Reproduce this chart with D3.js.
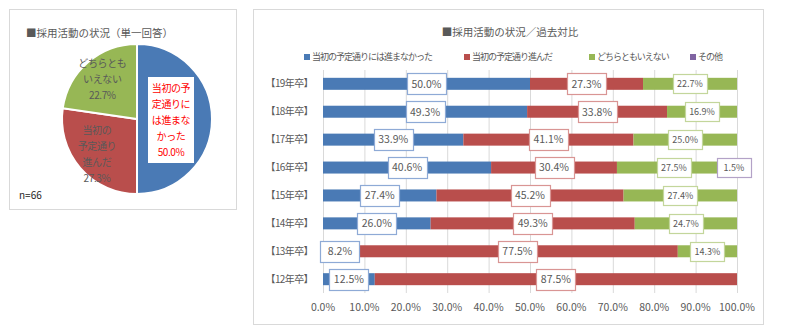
<!DOCTYPE html>
<html><head><meta charset="utf-8">
<script src="https://cdn.jsdelivr.net/npm/d3@7"></script>
<style>
body{margin:0;background:#fff;}
svg text{font-family:"Noto Sans CJK JP","Noto Sans",sans-serif;}
</style></head>
<body><svg id="c" width="800" height="332"></svg>
<script>
// ---- data ----
const pieLabels = ["当初の予定通りには進まなかった", "当初の予定通り進んだ", "どちらともいえない"];
const pieValues = [50.0, 27.3, 22.7];
const pieLabelLines = [["当初の予","定通りに","は進まな","かった"],["当初の","予定通り","進んだ"],["どちらとも","いえない"]];
const years = ["【19年卒】","【18年卒】","【17年卒】","【16年卒】","【15年卒】","【14年卒】","【13年卒】","【12年卒】"];
const seriesNames = ["当初の予定通りには進まなかった","当初の予定通り進んだ","どちらともいえない","その他"];
const notAsPlanned = [50.0, 49.3, 33.9, 40.6, 27.4, 26.0, 8.2, 12.5];
const asPlanned    = [27.3, 33.8, 41.1, 30.4, 45.2, 49.3, 77.5, 87.5];
const neither      = [22.7, 16.9, 25.0, 27.5, 27.4, 24.7, 14.3, 0];
const other        = [0, 0, 0, 1.5, 0, 0, 0, 0];
const xTicks = [0,10,20,30,40,50,60,70,80,90,100];

const colors = ["#4a7ab5","#b94e4c","#97b755","#8064a2"];
const borders = ["#8eaad6","#d99594","#c3d69b","#b3a2c7"];
const txt = "#595959";

const svg = d3.select("#c");

// ---- panels ----
svg.append("rect").attr("x",9.5).attr("y",9.5).attr("width",227).attr("height",200)
  .attr("fill","#fff").attr("stroke","#d9d9d9");
svg.append("rect").attr("x",253.5).attr("y",9.5).attr("width",510).attr("height",315)
  .attr("fill","#fff").attr("stroke","#d9d9d9");

// ---- pie ----
svg.append("text").attr("x",26).attr("y",37).attr("fill",txt).attr("font-size",10.5)
  .text("■採用活動の状況（単一回答）");
const cx=137, cy=119, R=75;
const pie = d3.pie().sort(null)(pieValues);
const arc = d3.arc().innerRadius(0).outerRadius(R);
const pg = svg.append("g").attr("transform",`translate(${cx},${cy})`);
pg.selectAll("path").data(pie).join("path").attr("d",arc)
  .attr("fill",(d,i)=>colors[i]).attr("stroke","#fff").attr("stroke-width",2);
pie.forEach((d,i)=>{
  const lr = i===0 ? 34 : 53;
  const a = (d.startAngle+d.endAngle)/2;
  const lx = lr*Math.sin(a), ly = -lr*Math.cos(a);
  const lines = pieLabelLines[i].concat([d3.format(".1f")(pieValues[i])+"%"]);
  const lh = 16;
  const g = pg.append("g").attr("transform",`translate(${lx},${ly+1})`);
  if(i===0){
    g.append("rect").attr("x",-23).attr("y",-lines.length*lh/2-3).attr("width",46).attr("height",lines.length*lh+6).attr("fill","#fff");
  }
  lines.forEach((t,j)=>{
    g.append("text").attr("x",0).attr("y",(j-(lines.length-1)/2)*lh).attr("dy","0.35em")
      .attr("text-anchor","middle").attr("font-size",10).attr("letter-spacing",-0.4)
      .attr("fill", i===0 ? "#ff0000" : txt).text(t);
  });
});
svg.append("text").attr("x",19).attr("y",199).attr("fill","#262626").attr("font-size",10).text("n=66");

// ---- bar chart ----
svg.append("text").attr("x",510).attr("y",36).attr("text-anchor","middle").attr("fill",txt)
  .attr("font-size",10.5).text("■採用活動の状況／過去対比");

const legX = [304, 464, 589, 690];
seriesNames.forEach((n,i)=>{
  svg.append("rect").attr("x",legX[i]).attr("y",54).attr("width",6).attr("height",6).attr("fill",colors[i]);
  svg.append("text").attr("x",legX[i]+8).attr("y",57).attr("dy","0.35em").attr("font-size",9)
    .attr("letter-spacing",-1).attr("fill",txt).text(n);
});

const x = d3.scaleLinear().domain([0,100]).range([323,737]);
const y = d3.scaleBand().domain(years).range([70,293]).paddingInner(0.57).paddingOuter(0.28);

// gridlines
svg.append("g").selectAll("line").data(xTicks).join("line")
  .attr("x1",d=>x(d)+0.5).attr("x2",d=>x(d)+0.5).attr("y1",70).attr("y2",293)
  .attr("stroke","#d9d9d9");
// x axis labels
svg.append("g").selectAll("text").data(xTicks).join("text")
  .attr("x",d=>x(d)).attr("y",307).attr("dy","0.35em").attr("text-anchor","middle")
  .attr("font-size",10.5).attr("fill",txt).text(d=>d3.format(".1f")(d)+"%");
// y labels
svg.append("g").selectAll("text").data(years).join("text")
  .attr("x",313).attr("y",d=>y(d)+y.bandwidth()/2).attr("dy","0.35em").attr("text-anchor","end")
  .attr("font-size",10).attr("letter-spacing",-0.6).attr("fill",txt).text(d=>d);

const seriesData = [notAsPlanned, asPlanned, neither, other];
const rows = years.map((yr,i)=>({yr, vals: seriesData.map(s=>s[i])}));
const segs = [];
rows.forEach(r=>{
  let acc=0;
  r.vals.forEach((v,k)=>{ segs.push({yr:r.yr,k,v,x0:acc,x1:acc+v}); acc+=v; });
});
const bars = segs.filter(s=>s.v>0);
svg.append("g").selectAll("rect").data(bars).join("rect")
  .attr("x",d=>x(d.x0)).attr("width",d=>x(d.x1)-x(d.x0))
  .attr("y",d=>y(d.yr)).attr("height",y.bandwidth()).attr("fill",d=>colors[d.k]);

// data labels
const lg = svg.append("g");
bars.forEach(d=>{
  const small = d.k>=2;
  const fs = small ? 9 : 10.5;
  const w = small ? 34 : 39;
  const h = small ? 19 : 21;
  const cxl = x((d.x0+d.x1)/2), cyl = y(d.yr)+y.bandwidth()/2;
  lg.append("rect").attr("x",Math.round(cxl-w/2)+0.5).attr("y",Math.round(cyl-h/2)+0.5)
    .attr("width",w).attr("height",h).attr("fill","#fff").attr("stroke",borders[d.k]).attr("stroke-width",1.2);
  lg.append("text").attr("x",cxl).attr("y",cyl).attr("dy","0.36em").attr("text-anchor","middle")
    .attr("font-size",fs).attr("fill",txt).text(d3.format(".1f")(d.v)+"%");
});
</script></body></html>
